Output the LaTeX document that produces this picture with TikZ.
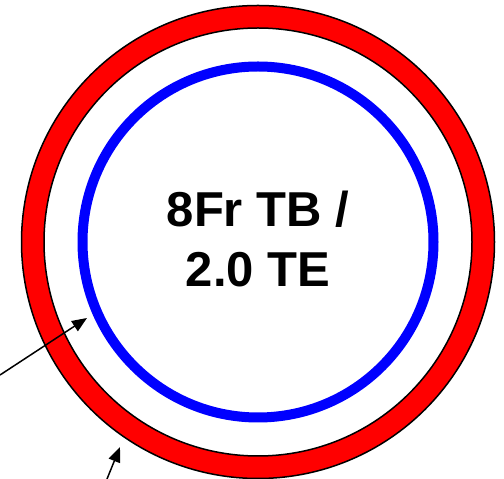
\documentclass[tikz,border=0pt]{standalone}
\usepackage{fontspec}
\setmainfont{Liberation Sans}
\usetikzlibrary{arrows.meta}

\begin{document}
\begin{tikzpicture}[
    x=1pt, y=1pt,
    ring/.style={
        circle,
        draw=black,
        fill=red,
        line width=1.5pt,
        inner sep=0pt,
        minimum size=473pt
    },
    gap/.style={
        circle,
        draw=black,
        fill=white,
        line width=1.5pt,
        inner sep=0pt,
        minimum size=428pt
    },
    tube/.style={
        circle,
        draw=blue,
        line width=10pt,
        inner sep=0pt,
        minimum size=351pt
    },
    tubetext/.style={
        align=center,
        font=\bfseries\fontsize{49}{60}\selectfont
    },
    arrow/.style={-{Triangle[length=15pt, width=12pt]}, line width=1.5pt}
]
\useasboundingbox (0,0) rectangle (504,479);

\coordinate (center) at (258,237);
\node[ring] (outer) at (center) {};
\node[gap] (inner) at (center) {};
\node[tube] (catheter) at (center) {};
\node[tubetext] (size) at (258,240) {8Fr TB /\\2.0 TE};

% pointers
\coordinate (tailA) at (0,104);
\coordinate (tipA) at (87,161);
\coordinate (tailB) at (107,0);
\coordinate (tipB) at (120,32);
\draw[arrow] (tailA) -- (tipA);
\draw[arrow] (tailB) -- (tipB);
\end{tikzpicture}
\end{document}
